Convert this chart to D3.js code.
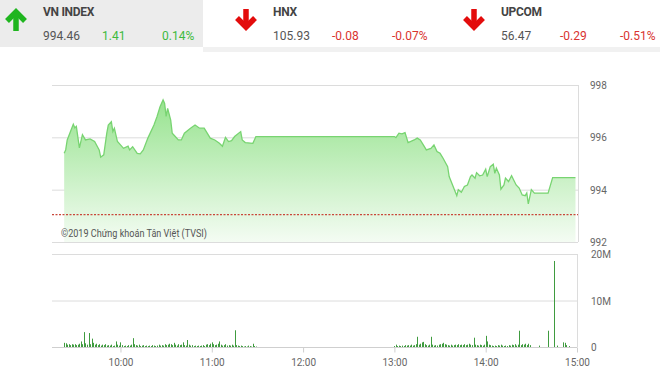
<!DOCTYPE html>
<html>
<head>
<meta charset="utf-8">
<script src="https://cdn.jsdelivr.net/npm/d3@7"></script>
<style>
  html, body { margin: 0; padding: 0; background: #fff; }
  svg { display: block; font-family: Roboto, "Noto Sans", sans-serif; }
</style>
</head>
<body>
<div id="chart"></div>
<script>
// Header indices
const indexNames = ["VN INDEX", "HNX", "UPCOM"];
const indexValues = ["994.46", "105.93", "56.47"];
const indexChanges = ["1.41", "-0.08", "-0.29"];
const indexPercents = ["0.14%", "-0.07%", "-0.51%"];
const indexUp = [true, false, false];

// Intraday VN-Index (time, value)
const priceTimes = [
  "09:23", "09:24", "09:25", "09:29", "09:30", "09:31", "09:33", "09:35", "09:37", "09:40",
  "09:43", "09:46", "09:47", "09:49", "09:51", "09:52", "09:54", "09:55", "09:56", "09:58",
  "10:00", "10:02", "10:05", "10:06", "10:08", "10:11", "10:13", "10:15", "10:18", "10:22",
  "10:24", "10:26", "10:28", "10:29", "10:30", "10:31", "10:33", "10:34", "10:36", "10:38",
  "10:40", "10:42", "10:46", "10:49", "10:52", "10:55", "10:57", "10:59", "11:02", "11:05",
  "11:07", "11:09", "11:11", "11:13", "11:15", "11:19", "11:20", "11:22", "11:27", "11:29",
  "11:30", "13:00", "13:01", "13:03", "13:05", "13:07", "13:09", "13:13", "13:15", "13:17",
  "13:19", "13:21", "13:24", "13:26", "13:28", "13:30", "13:32", "13:35", "13:36", "13:39",
  "13:41", "13:42", "13:44", "13:46", "13:48", "13:50", "13:51", "13:53", "13:54", "13:56",
  "13:58", "14:00", "14:01", "14:03", "14:05", "14:06", "14:07", "14:09", "14:10", "14:12",
  "14:13", "14:15", "14:17", "14:20", "14:22", "14:24", "14:26", "14:27", "14:28", "14:30",
  "14:32", "14:41", "14:44", "14:59"
];
const priceValues = [
  995.39, 995.52, 995.90, 996.50, 996.36, 996.42, 995.60, 996.10, 995.90, 995.94,
  995.84, 995.52, 995.24, 995.33, 996.16, 996.47, 996.60, 996.22, 996.35, 995.84,
  995.71, 995.58, 995.66, 995.52, 995.64, 995.39, 995.37, 995.52, 995.97, 996.47,
  996.79, 997.17, 997.43, 997.30, 996.80, 997.11, 996.66, 996.16, 996.03, 995.90,
  995.90, 996.16, 996.35, 996.47, 996.35, 996.35, 996.16, 995.97, 995.90, 995.77,
  995.66, 996.00, 995.84, 995.87, 996.03, 996.22, 995.90, 995.80, 995.77, 996.03,
  996.03, 996.03, 995.99, 996.16, 996.13, 996.18, 995.80, 995.90, 995.97, 995.90,
  995.71, 995.52, 995.58, 995.71, 995.46, 995.39, 995.20, 994.88, 994.50, 994.06,
  993.77, 994.00, 993.90, 994.12, 994.18, 994.50, 994.56, 994.44, 994.65, 994.53,
  994.56, 994.78, 994.50, 994.88, 994.97, 994.62, 994.82, 994.56, 994.02, 994.18,
  994.44, 994.31, 994.53, 994.18, 994.06, 993.80, 993.77, 993.87, 993.46, 994.00,
  993.87, 993.87, 994.46, 994.46
];
const referenceValue = 993.05;

// Volume (millions of shares), one bar per minute
const morningVolStart = "09:23";
const morningVolumes = [
  0.9, 0.8, 0.5, 0.6, 0.4, 0.6, 0.5, 0.6, 0.4, 0.5, 0.7, 1.2, 0.6, 3.2, 0.8, 0.5, 3.0, 0.6, 1.8,
  0.9, 0.5, 0.7, 0.4, 0.6, 0.3, 0.5, 0.4, 0.6, 0.3, 0.4, 0.3, 0.5, 0.2, 0.3, 1.2, 0.5, 0.3,
  1.0, 0.4, 0.2, 0.3, 0.2, 0.4, 0.3, 0.5, 1.9, 0.6, 0.4, 0.3, 0.5, 0.2, 0.3, 0.4, 0.2, 0.3,
  0.2, 0.3, 0.2, 0.4, 0.3, 0.2, 0.3, 0.5, 0.3, 0.4, 0.3, 0.6, 0.4, 0.5, 0.7, 0.6, 0.4, 0.9,
  0.5, 0.3, 0.6, 0.4, 0.5, 1.0, 0.4, 0.3, 1.5, 0.5, 0.3, 0.4, 0.2, 0.3, 0.2, 0.3, 0.2, 0.3,
  0.4, 0.2, 0.5, 0.6, 0.4, 0.7,
  1.0, 0.6, 0.4, 0.5, 0.7, 1.2, 0.5, 0.3, 0.4, 0.6, 0.3, 0.4, 0.3, 0.5, 0.3, 3.6, 0.4, 0.3,
  0.2, 0.3, 0.2, 0.1, 0.2, 0.1, 0.3, 0.2, 0.1, 0.7, 0.2, 0.1
];
const afternoonVolStart = "13:00";
const afternoonVolumes = [
  0.2, 0.5, 0.2, 0.3, 0.2, 0.3, 0.2, 0.4, 0.3, 0.4, 0.3, 0.5, 0.3, 0.4, 0.6, 2.2, 0.5, 0.7,
  1.0, 1.1, 0.6, 0.4, 0.3, 0.5, 2.2, 0.5, 0.3, 0.4, 0.3, 0.5, 0.6, 0.7, 0.9, 0.6, 0.5, 0.4,
  0.3, 0.5, 0.3, 0.4, 0.5, 0.4, 0.6, 0.4, 0.5, 0.4, 0.6, 0.4, 0.5, 0.7, 0.5, 0.4, 2.0, 0.5,
  0.4, 0.3, 0.5, 0.4, 0.3, 0.5,
  2.4, 1.2, 0.5, 0.4, 0.3, 0.2, 0.3, 0.2, 0.4, 0.3, 0.5, 0.3, 0.2, 0.3, 0.2, 0.4, 0.3, 0.5,
  0.4, 0.6, 0.3, 0.5, 3.5, 0.4, 0.6, 0.5, 0.7, 0.4, 0.7, 0.4
];
const lateVolTimes = ["14:35", "14:41", "14:45", "14:47", "14:51", "14:52", "14:53", "14:55"];
const lateVolumes = [0.3, 3.5, 18.5, 0.3, 1.0, 0.9, 0.4, 0.2];

const priceTicks = [992, 994, 996, 998];
const volTicks = [0, 10, 20];
const volTickLabels = ["0", "10M", "20M"];
const timeTicks = ["10:00", "11:00", "12:00", "13:00", "14:00", "15:00"];

const W = 660, H = 373;
const parseT = d3.timeParse("%H:%M");
const fmtT = d3.timeFormat("%H:%M");

const svg = d3.select("#chart").append("svg").attr("width", W).attr("height", H);

// ---- header ----
svg.append("rect").attr("x", 0).attr("y", 0).attr("width", 203).attr("height", 47).attr("fill", "#ececec");
svg.append("rect").attr("x", 203).attr("y", 47).attr("width", W - 203).attr("height", 5).attr("fill", "#f1f1f1");

const panelX = [0, 229, 457];
const green = "#3dba3d", red = "#d9332f";
indexNames.forEach((name, i) => {
  const g = svg.append("g").attr("transform", `translate(${panelX[i]},0)`);
  const cx = i === 0 ? 16 : 17, up = indexUp[i];
  const col = up ? "#1fb51f" : "#e30c0c";
  const a = g.append("g").attr("stroke", col).attr("stroke-width", 5.5).attr("fill", "none")
    .attr("stroke-linecap", "butt").attr("stroke-linejoin", "miter");
  if (up) {
    a.append("path").attr("d", `M${cx - 9},${21} L${cx},${12} L${cx + 9},${21}`);
    a.append("line").attr("x1", cx).attr("x2", cx).attr("y1", 13).attr("y2", 31);
  } else {
    a.append("path").attr("d", `M${cx - 9},${18} L${cx},${27} L${cx + 9},${18}`);
    a.append("line").attr("x1", cx).attr("x2", cx).attr("y1", 9).attr("y2", 26);
  }
  const tx = i === 0 ? 43 : 44;
  g.append("text").attr("x", tx).attr("y", 16).attr("font-size", 12).attr("font-weight", 700)
    .attr("fill", "#444").attr("letter-spacing", -0.3).text(name);
  g.append("text").attr("x", tx).attr("y", 40).attr("font-size", 12).attr("fill", "#555").text(indexValues[i]);
  g.append("text").attr("x", tx + 59).attr("y", 40).attr("font-size", 12)
    .attr("fill", up ? green : red).text(indexChanges[i]);
  g.append("text").attr("x", tx + 119).attr("y", 40).attr("font-size", 12)
    .attr("fill", up ? green : red).text(indexPercents[i]);
});

// ---- scales ----
const x = d3.scaleTime().domain([parseT("09:15"), parseT("15:00")]).range([52, 577]);
const yP = d3.scaleLinear().domain([992, 998]).range([242, 85]);
const yV = d3.scaleLinear().domain([0, 20]).range([347, 254]);

// ---- price panel ----
const defs = svg.append("defs");
const grad = defs.append("linearGradient").attr("id", "fillGrad")
  .attr("x1", 0).attr("x2", 0).attr("y1", 0).attr("y2", 1);
grad.append("stop").attr("offset", "0%").attr("stop-color", "#97e38f");
grad.append("stop").attr("offset", "100%").attr("stop-color", "#f4fcf3");

svg.append("g").selectAll("line").data(priceTicks).join("line")
  .attr("x1", 52).attr("x2", 578).attr("y1", d => yP(d) + 0.5).attr("y2", d => yP(d) + 0.5)
  .attr("stroke", "#dcdcdc");
svg.append("line").attr("x1", 578.5).attr("x2", 578.5).attr("y1", yP(998)).attr("y2", yP(992))
  .attr("stroke", "#dcdcdc");

const pts = priceTimes.map((t, i) => [parseT(t), priceValues[i]]);
svg.append("path").datum(pts)
  .attr("d", d3.area().x(d => x(d[0])).y0(yP(992)).y1(d => yP(d[1])))
  .attr("fill", "url(#fillGrad)");
svg.append("path").datum(pts)
  .attr("d", d3.line().x(d => x(d[0])).y(d => yP(d[1])))
  .attr("fill", "none").attr("stroke", "#78d471").attr("stroke-width", 1.3);

svg.append("line").attr("x1", 52).attr("x2", 578)
  .attr("y1", yP(referenceValue)).attr("y2", yP(referenceValue))
  .attr("stroke", "#c9473a").attr("stroke-width", 1.2).attr("stroke-dasharray", "2,1.5");

svg.append("g").selectAll("text").data(priceTicks).join("text")
  .attr("x", 590).attr("y", d => yP(d) + 4).attr("font-size", 10).attr("fill", "#666").text(d => d);

svg.append("text").attr("x", 61).attr("y", 237).attr("font-size", 10.5).attr("fill", "#555")
  .attr("textLength", 146).attr("lengthAdjust", "spacingAndGlyphs")
  .text("©2019 Chứng khoán Tân Việt (TVSI)");

// ---- volume panel ----
svg.append("g").selectAll("line").data(volTicks).join("line")
  .attr("x1", 52).attr("x2", 577).attr("y1", d => yV(d) + 0.5).attr("y2", d => yV(d) + 0.5)
  .attr("stroke", d => d === 0 ? "#cfcfcf" : "#dcdcdc");
svg.append("line").attr("x1", 577.5).attr("x2", 577.5).attr("y1", yV(20)).attr("y2", yV(0))
  .attr("stroke", "#dcdcdc");

const volData = [];
morningVolumes.forEach((v, i) => volData.push([d3.timeMinute.offset(parseT(morningVolStart), i), v]));
afternoonVolumes.forEach((v, i) => volData.push([d3.timeMinute.offset(parseT(afternoonVolStart), i), v]));
lateVolTimes.forEach((t, i) => volData.push([parseT(t), lateVolumes[i]]));

svg.append("g").selectAll("rect").data(volData).join("rect")
  .attr("x", d => Math.round(x(d[0])))
  .attr("y", d => yV(d[1]))
  .attr("width", 1)
  .attr("height", d => yV(0) - yV(d[1]))
  .attr("fill", "#3f9b3f");

svg.append("g").selectAll("text").data(volTicks).join("text")
  .attr("x", 591).attr("y", d => yV(d) + 4).attr("font-size", 10).attr("fill", "#666")
  .text((d, i) => volTickLabels[i]);

// time axis
const xAxis = d3.axisBottom(x)
  .tickValues(timeTicks.map(parseT))
  .tickFormat(fmtT)
  .tickSize(5)
  .tickPadding(6);
const ax = svg.append("g").attr("transform", `translate(0,${yV(0) + 0.5})`).call(xAxis);
ax.select(".domain").remove();
ax.selectAll(".tick line").attr("stroke", "#cfcfcf");
ax.selectAll(".tick text").attr("font-size", 10).attr("fill", "#666")
  .attr("font-family", "Roboto, 'Noto Sans', sans-serif");
</script>
</body>
</html>
